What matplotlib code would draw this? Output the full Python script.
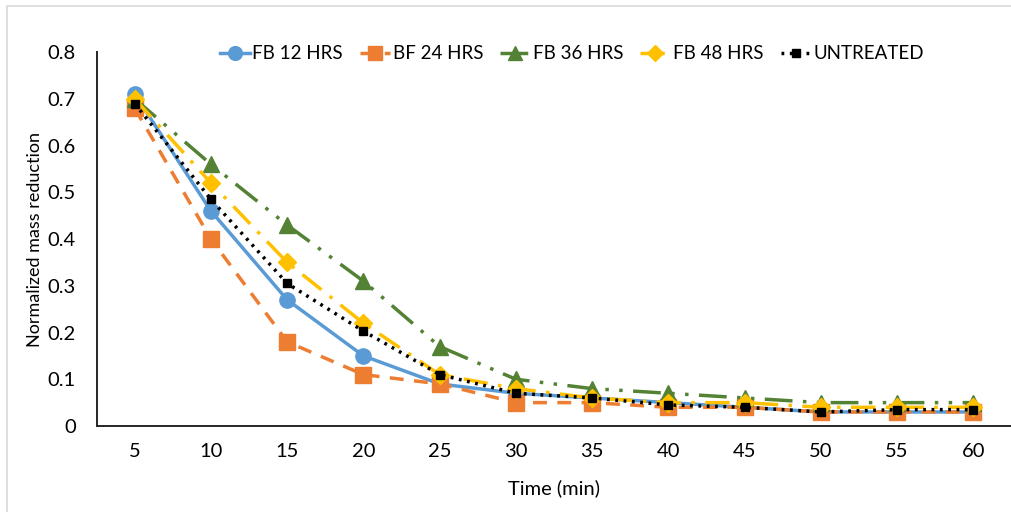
import matplotlib.pyplot as plt
from matplotlib.patches import Rectangle
import numpy as np

plt.rcParams['font.family'] = ['Lato', 'DejaVu Sans']

time_min = [5, 10, 15, 20, 25, 30, 35, 40, 45, 50, 55, 60]
fb_12 = [0.71, 0.46, 0.27, 0.15, 0.09, 0.07, 0.06, 0.05, 0.04, 0.03, 0.03, 0.03]
bf_24 = [0.68, 0.40, 0.18, 0.11, 0.09, 0.05, 0.05, 0.04, 0.04, 0.03, 0.03, 0.03]
fb_36 = [0.70, 0.56, 0.43, 0.31, 0.17, 0.10, 0.08, 0.07, 0.06, 0.05, 0.05, 0.05]
fb_48 = [0.70, 0.52, 0.35, 0.22, 0.11, 0.08, 0.06, 0.05, 0.05, 0.04, 0.04, 0.04]
untreated = [0.69, 0.485, 0.305, 0.203, 0.11, 0.07, 0.06, 0.045, 0.04, 0.03, 0.035, 0.035]

fig = plt.figure(figsize=(10.12, 5.12), dpi=100)

# light chart-area border (runs off the right and bottom edges)
fig.patches.append(Rectangle((0.0069, -0.05), 1.1, 0.038 + 1.0, transform=fig.transFigure,
                             fill=False, edgecolor='#D9D9D9', lw=1.2))

ax = fig.add_axes([0.0955, 0.168, 0.904, 0.730])

x = np.arange(len(time_min))

ax.plot(x, fb_12, color='#5B9BD5', lw=2.5, ls='-', marker='o', ms=11,
        label='FB 12 HRS')
ax.plot(x, bf_24, color='#ED7D31', lw=2.5, ls=(0, (4, 3)), marker='s', ms=11,
        label='BF 24 HRS')
ax.plot(x, fb_36, color='#548235', lw=2.5, ls=(0, (8, 3, 1, 3, 1, 3)), marker='^', ms=11,
        label='FB 36 HRS')
ax.plot(x, fb_48, color='#FFC000', lw=2.5, ls=(0, (7, 3, 1, 3)), marker='D', ms=9,
        label='FB 48 HRS')
ax.plot(x, untreated, color='black', lw=2.5, ls=(0, (0.8, 1.6)), marker='s', ms=6,
        label='UNTREATED')

ax.set_xlim(-0.5, len(time_min) - 0.5)
ax.set_ylim(0, 0.8)
ax.set_xticks(x)
ax.set_xticklabels([str(t) for t in time_min])
ax.set_yticks(np.arange(0, 0.81, 0.1))
ax.set_yticklabels(['0'] + [f'{v:.1f}' for v in np.arange(0.1, 0.81, 0.1)])
ax.tick_params(axis='both', length=0, labelsize=14.5, pad=12)
ax.tick_params(axis='y', pad=15)

for side in ['top', 'right']:
    ax.spines[side].set_visible(False)
for side in ['bottom', 'left']:
    ax.spines[side].set_color('#262626')
    ax.spines[side].set_linewidth(1.4)

ax.set_xlabel('Time (min)', fontsize=14.5, labelpad=14)
ax.set_ylabel('Normalized mass reduction', fontsize=13)
ax.yaxis.set_label_coords(-0.059, 0.5)

fig.legend(loc='center', bbox_to_anchor=(0.565, 0.895), ncol=5, frameon=False,
           fontsize=13.5, handlelength=1.6, handletextpad=0.15, columnspacing=0.9,
           markerscale=0.9)

fig.savefig('out.png', dpi=100)
